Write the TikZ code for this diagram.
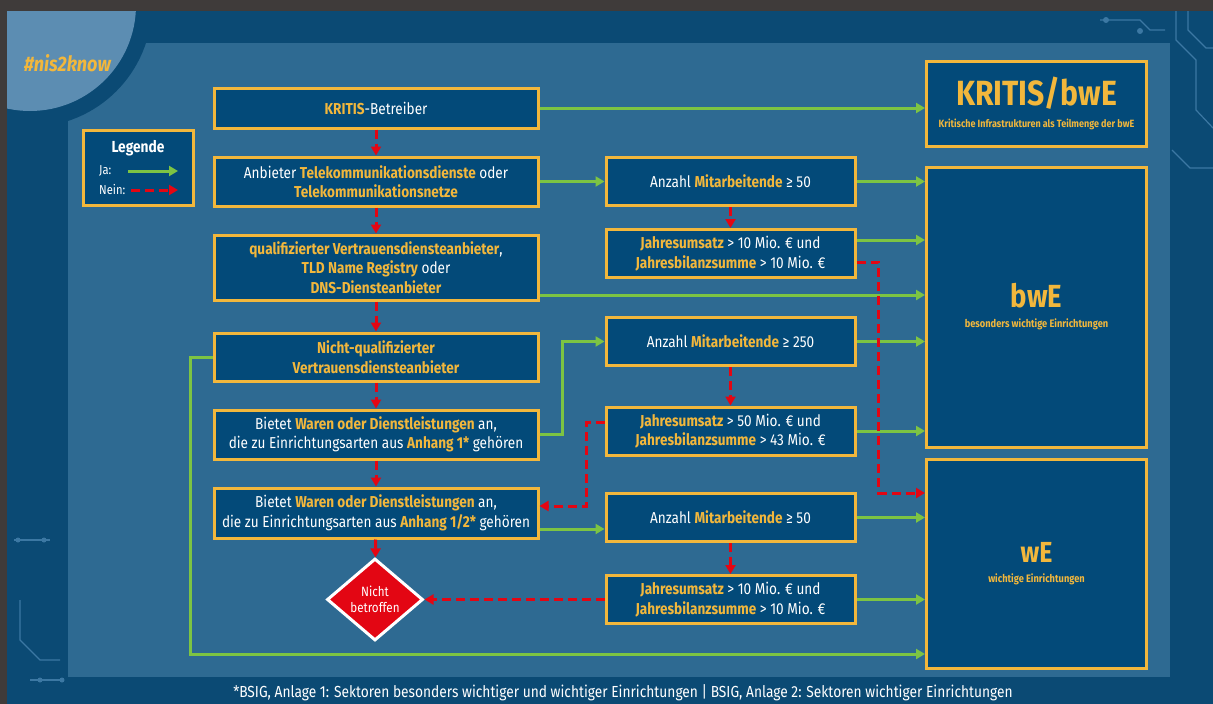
\documentclass[tikz,border=0pt]{standalone}
\usepackage{fontspec}
\setmainfont{Fira Sans}[FakeStretch=0.86]
\usetikzlibrary{positioning}
\usetikzlibrary{arrows.meta}
\usetikzlibrary{shapes.geometric}

\definecolor{nisdunkel}{HTML}{0B4A74}
\definecolor{nisfeld}{HTML}{2E6A92}
\definecolor{niskreis}{HTML}{5C8DB2}
\definecolor{nisbox}{HTML}{034A79}
\definecolor{nisgelb}{HTML}{F2B73C}
\definecolor{nisgruen}{HTML}{7DC443}
\definecolor{nisrot}{HTML}{E30613}
\definecolor{nisrahmen}{HTML}{3F3B3A}
\definecolor{nisspur}{HTML}{3C78A3}

\newcommand{\gelb}[1]{{\color{nisgelb}\bfseries #1}}

\begin{document}
\begin{tikzpicture}[x=1pt, y=-1pt,
    kasten/.style={draw=nisgelb, line width=3pt, fill=nisbox, text=white, align=center, inner sep=0pt,
                   font=\fontsize{15.8}{19.5}\selectfont},
    links/.style={kasten, minimum width=324pt},
    mitte/.style={kasten, minimum width=249pt, minimum height=48pt},
    rechts/.style={kasten, minimum width=220pt, text=nisgelb, font=\bfseries},
    ja/.style={draw=nisgruen, line width=3pt, -{Triangle[length=9pt, width=10pt]}},
    nein/.style={draw=nisrot, line width=3pt, dash pattern=on 9pt off 5pt, -{Triangle[length=9pt, width=10pt]}},
    spur/.style={draw=nisspur, line width=1.2pt}]
\useasboundingbox (0,0) rectangle (1213,704);

% hintergrund
\fill[nisdunkel] (0,0) rectangle (1213,704);
\fill[nisfeld] (68,43) rectangle (1170,677);
\fill[nisdunkel] (30,5) circle[radius=122pt];
\fill[niskreis] (30,5) circle[radius=106pt];
\draw[spur] (1176,10) -- (1176,40) -- (1196,60) -- (1196,110) -- (1213,128);
\draw[spur] (1188,10) -- (1188,30) -- (1206,48) -- (1213,48);
\draw[spur] (1172,150) -- (1190,168) -- (1213,168);
\draw[spur] (1100,20) -- (1140,20) -- (1150,30) -- (1165,30);
\fill[nisspur] (1106,20) circle[radius=3pt] (1140,31) circle[radius=3pt];
\draw[spur] (20,600) -- (20,640) -- (40,660) -- (60,660);
\draw[spur] (14,540) -- (50,540);
\fill[nisspur] (18,540) circle[radius=2.5pt] (44,540) circle[radius=2.5pt];
\draw[spur] (30,680) -- (64,680);
\fill[nisspur] (40,680) circle[radius=2.5pt] (62,680) circle[radius=2.5pt];
\fill[nisrahmen] (0,0) rectangle (1213,11);
\fill[nisrahmen] (0,0) rectangle (7,704);

\node[text=nisgelb, anchor=west, inner sep=0pt, font=\fontsize{21}{24}\selectfont\bfseries\itshape] (tag) at (24,63) {\#nis2know};

% legende
\node[kasten, minimum width=110pt, minimum height=75pt] (legende) at (138,167.5) {};
\node[text=white, font=\fontsize{16}{18}\selectfont\bfseries] (legtitel) at (138,148) {Legende};
\node[text=white, anchor=west, inner sep=0pt, font=\fontsize{13}{15}\selectfont] (legja) at (99,171) {Ja:};
\node[text=white, anchor=west, inner sep=0pt, font=\fontsize{13}{15}\selectfont] (legnein) at (99,190) {Nein:};
\coordinate (jastart) at (128,171);
\coordinate (jaende) at (178,171);
\coordinate (neinstart) at (131,190);
\coordinate (neinende) at (178,190);
\draw[ja] (jastart) -- (jaende);
\draw[nein] (neinstart) -- (neinende);

% linke spalte
\node[links, minimum height=40pt] (kritisb) at (376,108) {\gelb{KRITIS}-Betreiber};
\node[links, minimum height=49pt] (tele) at (376,181.5) {Anbieter \gelb{Telekommunikationsdienste} oder\\\gelb{Telekommunikationsnetze}};
\node[links, minimum height=65pt] (qual) at (376,267.5) {\gelb{qualifizierter Vertrauensdiensteanbieter},\\\gelb{TLD Name Registry} oder\\\gelb{DNS-Diensteanbieter}};
\node[links, minimum height=48pt] (nqual) at (376,357) {\gelb{Nicht-qualifizierter}\\\gelb{Vertrauensdiensteanbieter}};
\node[links, minimum height=49pt] (ware1) at (376,434.5) {Bietet \gelb{Waren oder Dienstleistungen} an,\\die zu Einrichtungsarten aus \gelb{Anhang 1*} gehören};
\node[links, minimum height=50pt] (ware2) at (376,513) {Bietet \gelb{Waren oder Dienstleistungen} an,\\die zu Einrichtungsarten aus \gelb{Anhang 1/2*} gehören};
\node[diamond, draw=white, line width=3pt, fill=nisrot, text=white, aspect=1.17, minimum width=96pt, minimum height=82pt,
      inner sep=0pt, align=center, font=\fontsize{13.5}{16}\selectfont] (nb) at (375,599.5) {Nicht\\betroffen};

% mittlere spalte
\node[mitte] (anz1) at (730.5,181.5) {Anzahl \gelb{Mitarbeitende} ≥ 50};
\node[mitte] (jahr1) at (730.5,253.5) {\gelb{Jahresumsatz} > 10 Mio. € und\\\gelb{Jahresbilanzsumme} > 10 Mio. €};
\node[mitte] (anz2) at (730.5,341.5) {Anzahl \gelb{Mitarbeitende} ≥ 250};
\node[mitte] (jahr2) at (730.5,431) {\gelb{Jahresumsatz} > 50 Mio. € und\\\gelb{Jahresbilanzsumme} > 43 Mio. €};
\node[mitte] (anz3) at (730.5,517.5) {Anzahl \gelb{Mitarbeitende} ≥ 50};
\node[mitte] (jahr3) at (730.5,599.5) {\gelb{Jahresumsatz} > 10 Mio. € und\\\gelb{Jahresbilanzsumme} > 10 Mio. €};

% rechte spalte
\node[rechts, minimum height=85pt] (kbwe) at (1036.5,103.5) {{\fontsize{35}{38}\selectfont KRITIS/bwE}\\[9pt]{\fontsize{10.5}{12}\selectfont Kritische Infrastrukturen als Teilmenge der bwE}};
\node[rechts, minimum height=280pt] (bwe) at (1036.5,307) {{\fontsize{32}{35}\selectfont bwE}\\[8pt]{\fontsize{10.8}{12}\selectfont besonders wichtige Einrichtungen}};
\node[rechts, minimum height=209pt] (we) at (1036.5,563.5) {{\fontsize{29}{32}\selectfont wE}\\[8pt]{\fontsize{10.8}{12}\selectfont wichtige Einrichtungen}};

% ja
\draw[ja] (kritisb) -- (kbwe.west |- kritisb);
\draw[ja] (tele) -- (anz1);
\draw[ja] (anz1) -- (bwe.west |- anz1);
\draw[ja] ([yshift=13.5pt]jahr1.east) coordinate (j1) -- (bwe.west |- j1);
\draw[ja] ([yshift=-27.5pt]qual.east) coordinate (q1) -- (bwe.west |- q1);
\draw[ja] (nqual.west) -- ++(-22,0) |- ([yshift=-90.5pt]we.west);
\draw[ja] (ware1.east) -- ++(23,0) |- (anz2.west);
\draw[ja] (anz2) -- (bwe.west |- anz2);
\draw[ja] (jahr2) -- (bwe.west |- jahr2);
\draw[ja] ([yshift=-16pt]ware2.east) coordinate (w2) -- (anz3.west |- w2);
\draw[ja] (anz3) -- (we.west |- anz3);
\draw[ja] (jahr3) -- (we.west |- jahr3);

% nein
\draw[nein] (kritisb) -- (tele);
\draw[nein] (tele) -- (qual);
\draw[nein] (qual) -- (nqual);
\draw[nein] (nqual) -- (ware1);
\draw[nein] (ware1) -- (ware2);
\draw[nein] (ware2) -- (nb);
\draw[nein] (anz1) -- (jahr1);
\draw[nein] (anz2) -- (jahr2);
\draw[nein] (anz3) -- (jahr3);
\draw[nein] ([yshift=-8.5pt]jahr1.east) -- ++(22,0) |- ([yshift=70.5pt]we.west);
\draw[nein] ([yshift=9pt]jahr2.west) -- ++(-18,0) |- ([yshift=7pt]ware2.east);
\draw[nein] (jahr3) -- (nb);

\node[text=white, font=\fontsize{16}{18}\selectfont] (fussnote) at (623,693) {*BSIG, Anlage 1: Sektoren besonders wichtiger und wichtiger Einrichtungen | BSIG, Anlage 2: Sektoren wichtiger Einrichtungen};
\end{tikzpicture}
\end{document}
